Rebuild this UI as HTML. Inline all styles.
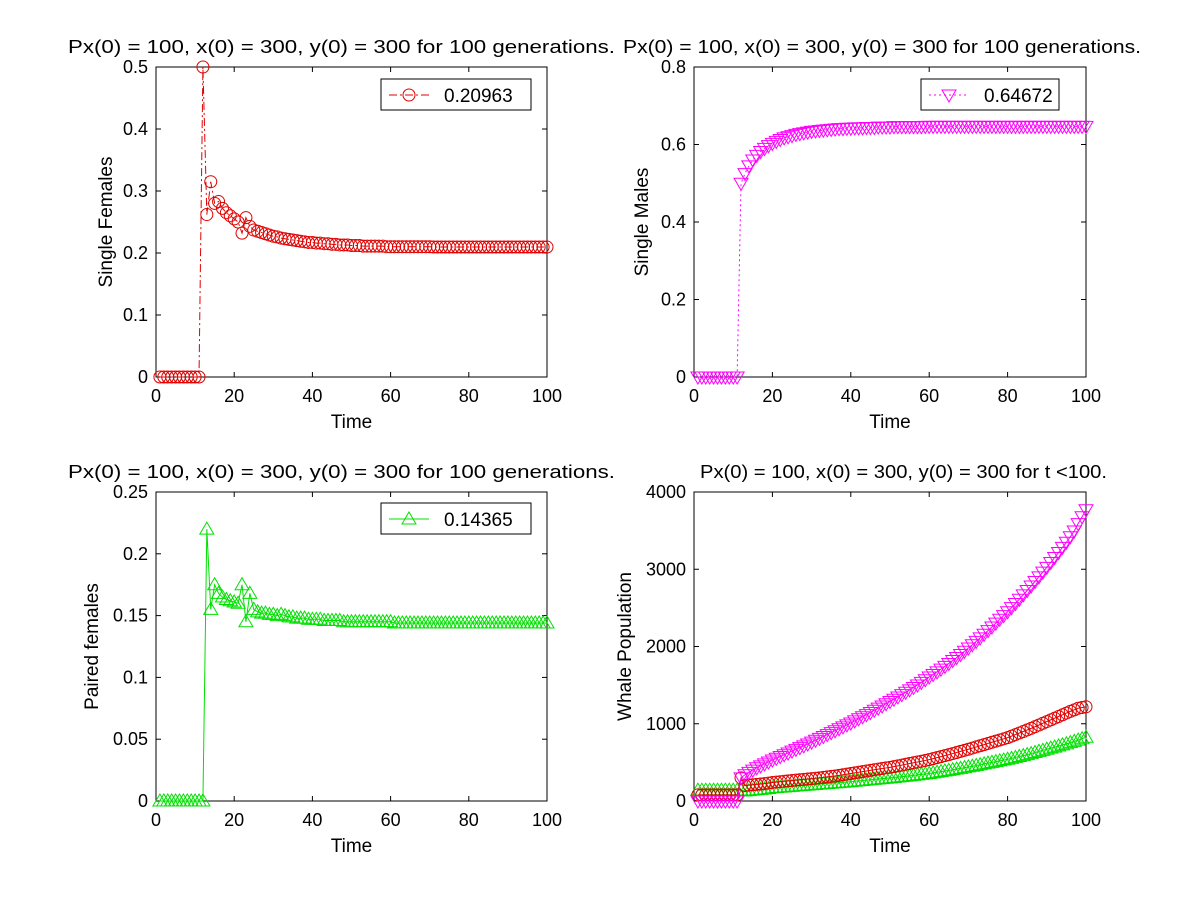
<!DOCTYPE html>
<html><head><meta charset="utf-8"><style>
html,body{margin:0;padding:0;background:#fff}
svg{display:block;font-family:"Liberation Sans",Arial,sans-serif}
</style></head><body>
<svg id="fig" width="1200" height="900" viewBox="0 0 1200 900" xmlns="http://www.w3.org/2000/svg">
<rect width="1200" height="900" fill="#fff"/>
</svg>
<script>
const timeStart = 1;
const singleFemales = [0,0,0,0,0,0,0,0,0,0,0,0.5,0.262,0.315,0.28,0.283,0.272,0.265,0.26,0.255,0.25,0.232,0.257,0.243,0.237,0.235,0.233,0.231,0.229,0.227,0.226,0.224,0.223,0.222,0.221,0.220,0.219,0.218,0.217,0.217,0.216,0.216,0.215,0.215,0.214,0.214,0.213,0.213,0.213,0.212,0.212,0.212,0.211,0.211,0.211,0.211,0.211,0.211,0.210,0.210,0.210,0.210,0.210,0.210,0.210,0.210,0.210,0.210,0.210,0.210,0.2096,0.2096,0.2096,0.2096,0.2096,0.2096,0.2096,0.2096,0.2096,0.2096,0.2096,0.2096,0.2096,0.2096,0.2096,0.2096,0.2096,0.2096,0.2096,0.2096,0.2096,0.2096,0.2096,0.2096,0.2096,0.2096,0.2096,0.2096,0.2096,0.2096];
const singleMales = [0,0,0,0,0,0,0,0,0,0,0,0.5,0.525,0.545,0.56,0.572,0.582,0.59,0.597,0.603,0.608,0.613,0.617,0.62,0.623,0.626,0.628,0.63,0.632,0.634,0.635,0.636,0.637,0.638,0.639,0.640,0.641,0.641,0.642,0.642,0.643,0.643,0.643,0.644,0.644,0.644,0.645,0.645,0.645,0.645,0.646,0.646,0.646,0.646,0.646,0.646,0.646,0.646,0.6467,0.6467,0.6467,0.6467,0.6467,0.6467,0.6467,0.6467,0.6467,0.6467,0.6467,0.6467,0.6467,0.6467,0.6467,0.6467,0.6467,0.6467,0.6467,0.6467,0.6467,0.6467,0.6467,0.6467,0.6467,0.6467,0.6467,0.6467,0.6467,0.6467,0.6467,0.6467,0.6467,0.6467,0.6467,0.6467,0.6467,0.6467,0.6467,0.6467,0.6467,0.6467];
const pairedFemales = [0,0,0,0,0,0,0,0,0,0,0,0,0.22,0.155,0.175,0.168,0.165,0.163,0.162,0.161,0.160,0.175,0.145,0.168,0.155,0.153,0.152,0.152,0.151,0.151,0.150,0.151,0.150,0.149,0.149,0.148,0.148,0.148,0.147,0.147,0.147,0.147,0.146,0.146,0.146,0.146,0.146,0.145,0.145,0.145,0.145,0.145,0.145,0.145,0.145,0.145,0.145,0.145,0.145,0.145,0.144,0.144,0.144,0.144,0.144,0.144,0.144,0.144,0.144,0.144,0.144,0.144,0.144,0.144,0.144,0.144,0.144,0.144,0.144,0.144,0.144,0.144,0.144,0.144,0.144,0.144,0.144,0.144,0.144,0.144,0.144,0.144,0.144,0.144,0.144,0.144,0.144,0.144,0.144,0.144];
const popMales = [0,0,0,0,0,0,0,0,0,0,0,300,340,370,400,430,455,480,505,530,553,576,599,622,645,668,691,714,738,762,786,810,835,860,885,910,935,960,985,1010,1037,1064,1091,1118,1146,1174,1202,1230,1259,1288,1317,1347,1377,1407,1438,1470,1502,1535,1570,1605,1638,1672,1707,1743,1780,1818,1857,1897,1938,1980,2023,2067,2112,2158,2205,2253,2302,2352,2400,2450,2503,2557,2612,2668,2725,2783,2842,2902,2963,3025,3088,3152,3217,3283,3350,3420,3495,3590,3680,3770];
const popFemales = [80,80,80,80,80,80,80,80,80,80,80,300,200,205,210,215,220,225,232,240,245,250,255,260,265,270,275,280,285,290,295,300,306,312,318,324,332,340,348,356,364,372,380,388,396,404,412,420,428,436,445,455,465,475,485,495,505,515,525,535,548,561,574,587,600,614,628,642,656,670,685,700,715,730,745,760,775,790,805,820,840,860,880,900,920,940,962,984,1006,1028,1050,1072,1094,1116,1138,1160,1180,1200,1210,1220];
const popPaired = [140,140,140,140,140,140,140,140,140,140,140,140,130,135,140,145,150,155,162,170,174,178,182,186,190,194,198,202,206,210,214,218,222,226,230,234,238,242,246,250,255,260,265,270,275,280,285,290,295,300,305,310,315,320,326,332,338,344,350,356,364,372,380,388,396,405,414,423,432,441,450,460,470,480,490,500,510,520,530,540,552,564,576,588,600,614,628,642,656,670,684,698,712,726,740,756,772,788,806,826];
const xTicks = [0,20,40,60,80,100];
const yTicksSF = ["0","0.1","0.2","0.3","0.4","0.5"];
const yTicksSM = ["0","0.2","0.4","0.6","0.8"];
const yTicksPF = ["0","0.05","0.1","0.15","0.2","0.25"];
const yTicksWP = ["0","1000","2000","3000","4000"];
const legendSF = "0.20963", legendSM = "0.64672", legendPF = "0.14365";
const titleGen = "Px(0) = 100, x(0) = 300, y(0) = 300 for 100 generations.";
const titleT = "Px(0) = 100, x(0) = 300, y(0) = 300 for t <100.";

const NS = "http://www.w3.org/2000/svg";
const fig = document.getElementById('fig');
function mk(tag, attrs, parent){const e=document.createElementNS(NS,tag);for(const k in attrs)e.setAttribute(k,attrs[k]);(parent||fig).appendChild(e);return e;}

function marker(g, type, cx, cy, color){
  let e;
  if(type==='o'){e=mk('circle',{cx:cx,cy:cy,r:6,fill:'none',stroke:color,'stroke-width':1},g);}
  else if(type==='v'){e=mk('polygon',{points:`${cx-7},${cy-5} ${cx+7},${cy-5} ${cx},${cy+7}`,fill:'none',stroke:color,'stroke-width':1},g);}
  else {e=mk('polygon',{points:`${cx-7},${cy+5} ${cx+7},${cy+5} ${cx},${cy-7}`,fill:'none',stroke:color,'stroke-width':1},g);}
  
  
}

function axes(name, L, T, R, B, yMax, yLabels, title, titleX, titleW, ylab, ylabX){
  const g = mk('g',{});
  
  
  const xs = v => L + (v/100)*(R-L);
  const ys = v => B - (v/yMax)*(B-T);
  const fr = mk('rect',{x:L,y:T,width:R-L,height:B-T,fill:'#fff',stroke:'#000','stroke-width':1},g);
  
  
  xTicks.forEach(v=>{
    const x=xs(v);
    mk('line',{x1:x,y1:B,x2:x,y2:B-5,stroke:'#000'},g);
    mk('line',{x1:x,y1:T,x2:x,y2:T+5,stroke:'#000'},g);
    const t=mk('text',{x:x,y:B+25,'font-size':18,'text-anchor':'middle'},g);t.textContent=v;
    
    
  });
  const n=yLabels.length-1;
  yLabels.forEach((lab,i)=>{
    const y=ys(yMax*i/n);
    mk('line',{x1:L,y1:y,x2:L+5,y2:y,stroke:'#000'},g);
    mk('line',{x1:R,y1:y,x2:R-5,y2:y,stroke:'#000'},g);
    const t=mk('text',{x:L-8,y:y+6,'font-size':18,'text-anchor':'end'},g);t.textContent=lab;
    
    
  });
  const xl=mk('text',{x:(L+R)/2,y:B+51,'font-size':19,'text-anchor':'middle'},g);xl.textContent='Time';
  
  
  const yl=mk('text',{x:0,y:0,'font-size':19,'text-anchor':'middle',transform:`translate(${ylabX},${(T+B)/2}) rotate(-90)`},g);yl.textContent=ylab;
  
  
  const tt=mk('text',{x:titleX,y:T-14,'font-size':18,textLength:titleW,lengthAdjust:'spacingAndGlyphs'},g);tt.textContent=title;
  
  
  return {g,xs,ys};
}

function series(ax, data, color, type, dash, name){
  const g=mk('g',{},ax.g);
  
  
  const pts=data.map((v,i)=>`${ax.xs(timeStart+i)},${ax.ys(v)}`).join(' ');
  const pl=mk('polyline',{points:pts,fill:'none',stroke:color,'stroke-width':1},g);
  if(dash) pl.setAttribute('stroke-dasharray',dash);
  
  
  data.forEach((v,i)=>marker(g,type,ax.xs(timeStart+i),ax.ys(v),color));
}

function legend(ax, x, y, w, color, type, dash, label){
  const g=mk('g',{},ax.g);
  
  
  mk('rect',{x:x,y:y,width:w,height:31,fill:'#fff',stroke:'#000'},g);
  const l=mk('line',{x1:x+8,y1:y+16,x2:x+48,y2:y+16,stroke:color},g);
  if(dash) l.setAttribute('stroke-dasharray',dash);
  marker(g,type,x+28,y+16,color);
  const t=mk('text',{x:x+63,y:y+23,'font-size':19},g);t.textContent=label;
  
  
}

const a1=axes('single-females-chart',156,67,547,377,0.5,yTicksSF,titleGen,68,547,'Single Females',112);
series(a1,singleFemales,'#e00000','o','8,3,2,3','single-females-series');
legend(a1,381,79,150,'#e00000','o','8,3,2,3',legendSF);

const a2=axes('single-males-chart',694,67,1086,377,0.8,yTicksSM,titleGen,623,518,'Single Males',648);
series(a2,singleMales,'#ff00ff','v','2,3','single-males-series');
legend(a2,921,79,138,'#ff00ff','v','2,3',legendSM);

const a3=axes('paired-females-chart',156,492,547,801,0.25,yTicksPF,titleGen,68,547,'Paired females',98);
series(a3,pairedFemales,'#00e000','^',null,'paired-females-series');
legend(a3,381,503,150,'#00e000','^',null,legendPF);

const a4=axes('whale-population-chart',694,492,1086,801,4000,yTicksWP,titleT,700,407,'Whale Population',631);
series(a4,popPaired,'#00e000','^',null,'paired-population-series');
series(a4,popFemales,'#e00000','o',null,'female-population-series');
series(a4,popMales,'#ff00ff','v',null,'male-population-series');
</script>
</body></html>
